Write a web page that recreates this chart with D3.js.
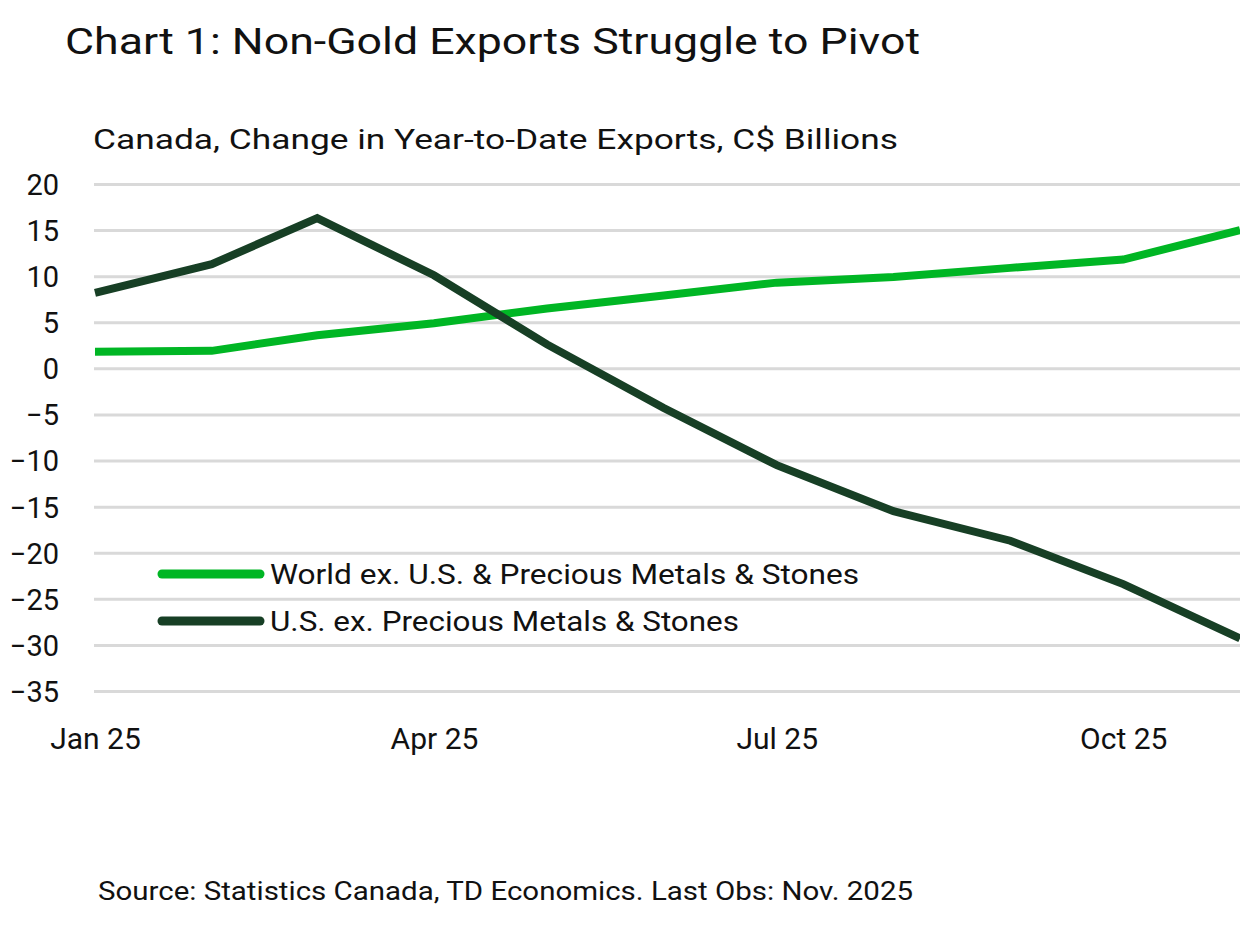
<!DOCTYPE html>
<html><head><meta charset="utf-8">
<script src="https://cdn.jsdelivr.net/npm/d3@7"></script>
<style>body{margin:0;background:#fff}svg{display:block}text{font-family:Roboto,"Noto Sans",sans-serif;fill:#111}</style>
</head><body><svg id="c" width="1240" height="925"></svg>
<script>
const months = ["2025-01-01","2025-02-01","2025-03-01","2025-04-01","2025-05-01","2025-06-01","2025-07-01","2025-08-01","2025-09-01","2025-10-01","2025-11-01"];
const worldExUS = [1.8, 1.9, 3.6, 4.9, 6.5, 7.9, 9.3, 9.9, 10.9, 11.8, 15.0];
const usExPrecious = [8.2, 11.3, 16.3, 10.1, 2.6, -4.3, -10.5, -15.5, -18.7, -23.4, -29.3];
const yTicks = [20, 15, 10, 5, 0, -5, -10, -15, -20, -25, -30, -35];
const xTickDates = ["2025-01-01","2025-04-01","2025-07-01","2025-10-01"];
const xTickLabels = ["Jan 25","Apr 25","Jul 25","Oct 25"];
const seriesNames = ["World ex. U.S. & Precious Metals & Stones","U.S. ex. Precious Metals & Stones"];
const seriesColors = ["#00b624","#173f25"];

const parse = d3.timeParse("%Y-%m-%d");
const svg = d3.select("#c");
const x = d3.scaleTime().domain([parse(months[0]), parse(months[months.length-1])]).range([95, 1240]);
const y = d3.scaleLinear().domain([-35, 20]).range([691, 184]);

function fitText(sel, w){ sel.attr("textLength", w).attr("lengthAdjust","spacingAndGlyphs"); }

fitText(svg.append("text").attr("x",65).attr("y",54).attr("font-size",36).text("Chart 1: Non-Gold Exports Struggle to Pivot"), 855);
fitText(svg.append("text").attr("x",93).attr("y",149).attr("font-size",28).text("Canada, Change in Year-to-Date Exports, C$ Billions"), 805);

// grid
const yAxis = d3.axisLeft(y).tickValues(yTicks).tickSize(-(1240-94)).tickFormat(d3.format("d"));
const gy = svg.append("g").attr("transform","translate(94,0)").call(yAxis);
gy.select(".domain").remove();
gy.selectAll(".tick line").attr("stroke","#d9d9d9").attr("stroke-width",3);
gy.selectAll(".tick text").attr("x",-35).attr("font-size",29).attr("fill","#111")
  .attr("font-family","Inter, Roboto, sans-serif").attr("dy","0.36em");

const xAxis = d3.axisBottom(x).tickValues(xTickDates.map(parse)).tickSize(0)
  .tickFormat((d,i)=>xTickLabels[i]);
const gx = svg.append("g").attr("transform","translate(0,730)").call(xAxis);
gx.select(".domain").remove();
gx.selectAll(".tick text").attr("font-size",30).attr("fill","#111").attr("font-family","Inter, Roboto, sans-serif").attr("dy","0.71em").attr("y",-2);

const line = d3.line().x((d,i)=>x(parse(months[i]))).y(d=>y(d));
[worldExUS, usExPrecious].forEach((s,k)=>{
  svg.append("path").datum(s).attr("d",line).attr("fill","none")
    .attr("stroke",seriesColors[k]).attr("stroke-width",8).attr("stroke-linejoin","miter");
});

// legend
const legY = [574, 621];
const legW = [589, 469];
seriesNames.forEach((n,k)=>{
  svg.append("line").attr("x1",162).attr("x2",260).attr("y1",legY[k]).attr("y2",legY[k])
    .attr("stroke",seriesColors[k]).attr("stroke-width",9).attr("stroke-linecap","round");
  fitText(svg.append("text").attr("x",270).attr("y",legY[k]+10).attr("font-size",27).text(n), legW[k]);
});

fitText(svg.append("text").attr("x",98).attr("y",900).attr("font-size",25).text("Source: Statistics Canada, TD Economics. Last Obs: Nov. 2025"), 815);
</script></body></html>
